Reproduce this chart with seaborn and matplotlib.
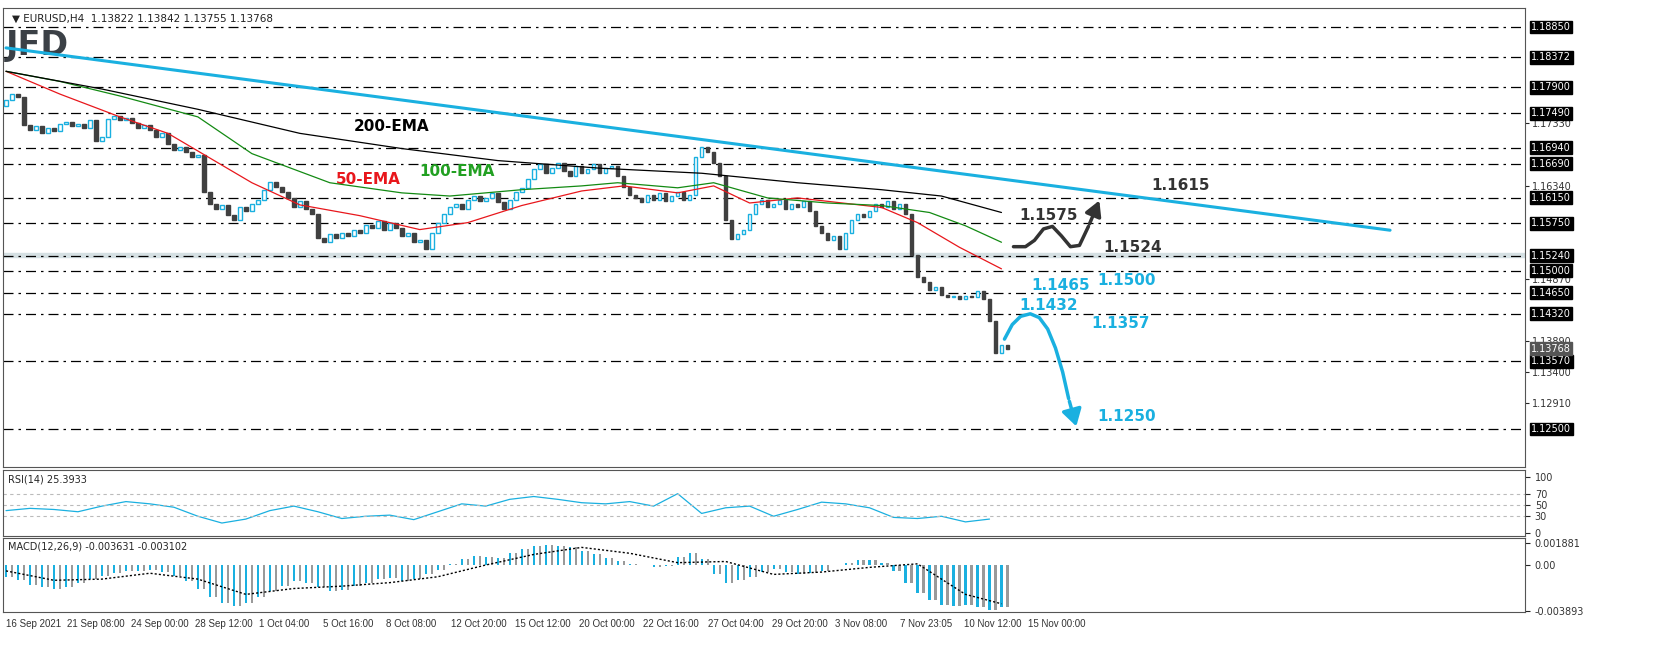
import numpy as np
import pandas as pd
import matplotlib
matplotlib.use("Agg")
import matplotlib.pyplot as plt
import seaborn as sns

sns.set_style("white")
plt.rcParams['font.family'] = ['DejaVu Sans']

# --- data ---
closes = [
    1.1770, 1.1779, 1.1775, 1.1730, 1.1722, 1.1728, 1.1718, 1.1725, 1.1720, 1.1731,
    1.1735, 1.1728, 1.1732, 1.1726, 1.1738, 1.1705, 1.1712, 1.1740, 1.1745, 1.1738,
    1.1742, 1.1733, 1.1725, 1.1730, 1.1722, 1.1712, 1.1718, 1.1700, 1.1690, 1.1695,
    1.1688, 1.1680, 1.1683, 1.1625, 1.1605, 1.1598, 1.1604, 1.1588, 1.1580, 1.1600,
    1.1595, 1.1605, 1.1612, 1.1628, 1.1640, 1.1632, 1.1625, 1.1615, 1.1600, 1.1610,
    1.1598, 1.1590, 1.1552, 1.1545, 1.1558, 1.1552, 1.1560, 1.1555, 1.1565, 1.1560,
    1.1572, 1.1568, 1.1578, 1.1565, 1.1575, 1.1568, 1.1555, 1.1560, 1.1545, 1.1548,
    1.1535, 1.1560, 1.1575, 1.1590, 1.1600, 1.1605, 1.1598, 1.1612, 1.1618, 1.1610,
    1.1615, 1.1622, 1.1608, 1.1598, 1.1612, 1.1625, 1.1630, 1.1645, 1.1660, 1.1668,
    1.1655, 1.1662, 1.1670, 1.1658, 1.1650, 1.1665, 1.1655, 1.1660, 1.1668, 1.1655,
    1.1662, 1.1665, 1.1650, 1.1632, 1.1620, 1.1615, 1.1608, 1.1620, 1.1612, 1.1622,
    1.1610, 1.1618, 1.1625, 1.1612, 1.1620, 1.1680, 1.1695, 1.1688, 1.1670, 1.1650,
    1.1580, 1.1550, 1.1558, 1.1565, 1.1590, 1.1605, 1.1612, 1.1600, 1.1605, 1.1612,
    1.1598, 1.1605, 1.1600, 1.1610, 1.1595, 1.1570, 1.1560, 1.1548, 1.1555, 1.1535,
    1.1560, 1.1580, 1.1590, 1.1585, 1.1595, 1.1605, 1.1600, 1.1610, 1.1598, 1.1605,
    1.1590, 1.1525, 1.1490, 1.1482, 1.1470, 1.1475, 1.1462, 1.1458, 1.1460, 1.1455,
    1.1460, 1.1458, 1.1468, 1.1455, 1.1420, 1.1370, 1.1382, 1.13768,
]
first_open = 1.1760

ema50_idx = [0, 9, 19, 27, 34, 41, 49, 59, 69, 77, 86, 96, 103, 112, 118, 124, 132, 146, 152, 159, 166]
ema50_val = [1.1815, 1.1779, 1.1743, 1.1717, 1.1678, 1.1639, 1.1604, 1.1587, 1.1565, 1.1576,
             1.1603, 1.1626, 1.1634, 1.1623, 1.1634, 1.1607, 1.1615, 1.1600, 1.1576, 1.1537, 1.1503]
ema100_idx = [0, 9, 19, 32, 41, 54, 66, 74, 86, 96, 102, 112, 118, 127, 137, 146, 154, 160, 166]
ema100_val = [1.1815, 1.1799, 1.1776, 1.1743, 1.1685, 1.1639, 1.1623, 1.1618, 1.1628, 1.1634,
              1.1639, 1.1631, 1.1639, 1.1615, 1.1607, 1.1603, 1.1592, 1.1571, 1.1545]
ema200_idx = [0, 16, 32, 49, 66, 82, 99, 116, 132, 146, 156, 166]
ema200_val = [1.1815, 1.1787, 1.1755, 1.1717, 1.1693, 1.1674, 1.1662, 1.1654, 1.1639, 1.1628, 1.1618, 1.1592]

trend_idx = [0, 230.8]
trend_val = [1.1852, 1.1564]

levels = [1.18850, 1.18372, 1.17900, 1.17490, 1.16940, 1.16690, 1.16150, 1.15750,
          1.15240, 1.15000, 1.14650, 1.14320, 1.13570, 1.12500]
plain_ticks = [1.17330, 1.16340, 1.14870, 1.13890, 1.13400, 1.12910]
last_price = 1.13768

rsi_vals = [40, 44, 42, 38, 48, 56, 52, 46, 30, 18, 25, 40, 48, 38, 26, 30, 32, 24, 38, 52,
            48, 60, 65, 60, 54, 52, 56, 48, 70, 35, 45, 48, 30, 42, 55, 52, 45, 28, 26, 30, 20, 25]

macd_hist = [
    -0.0010, -0.0013, -0.0017, -0.0019, -0.0020, -0.0019, -0.0015, -0.0012, -0.0009, -0.0007,
    -0.0005, -0.0005, -0.0004, -0.0006, -0.0009, -0.0014, -0.0020, -0.0027, -0.0032, -0.0035,
    -0.0032, -0.0027, -0.0022, -0.0018, -0.0014, -0.0015, -0.0019, -0.0022, -0.0021, -0.0018,
    -0.0015, -0.0012, -0.0011, -0.0014, -0.0012, -0.0008, -0.0004, 0.0001, 0.0005, 0.0008,
    0.0007, 0.0006, 0.0010, 0.0014, 0.0016, 0.0017, 0.0016, 0.0015, 0.0012, 0.0009,
    0.0006, 0.0003, 0.0001, 0.0000, -0.0002, -0.0001, 0.0007, 0.0010, 0.0005, -0.0008,
    -0.0015, -0.0013, -0.0010, -0.0006, -0.0003, -0.0006, -0.0008, -0.0007, -0.0005, 0.0000,
    0.0002, 0.0004, 0.0004, 0.0002, -0.0005, -0.0015, -0.0024, -0.0030, -0.0034, -0.0035,
    -0.0034, -0.0036, -0.0038, -0.0036,
]
signal_idx = [0, 8, 16, 24, 32, 40, 48, 56, 64, 72, 80, 88, 96, 104, 112, 120, 128, 136, 144, 152, 160, 166]
signal_val = [-0.0005, -0.0013, -0.0012, -0.0007, -0.0012, -0.0025, -0.0020, -0.0018, -0.0015, -0.0010,
              0.0000, 0.0009, 0.0015, 0.0010, 0.0002, 0.0003, -0.0008, -0.0006, -0.0002, 0.0001, -0.0025, -0.0033]

date_labels = ["16 Sep 2021", "21 Sep 08:00", "24 Sep 00:00", "28 Sep 12:00", "1 Oct 04:00",
               "5 Oct 16:00", "8 Oct 08:00", "12 Oct 20:00", "15 Oct 12:00", "20 Oct 00:00",
               "22 Oct 16:00", "27 Oct 04:00", "29 Oct 20:00", "3 Nov 08:00", "7 Nov 23:05",
               "10 Nov 12:00", "15 Nov 00:00"]
date_idx = [0, 10.2, 20.8, 31.5, 42.2, 52.8, 63.3, 74.2, 84.8, 95.5, 106.2, 117, 127.7, 138.3, 149, 159.7, 170.5]

# --- layout ---
W, H = 1655, 671
fig = plt.figure(figsize=(W / 100, H / 100), dpi=100)
fig.patch.set_facecolor("white")

def rect(x0, y0, x1, y1):
    return [x0 / W, (H - y1) / H, (x1 - x0) / W, (y1 - y0) / H]

ax = fig.add_axes(rect(3, 8, 1525, 467))
ax_rsi = fig.add_axes(rect(3, 470, 1525, 536))
ax_macd = fig.add_axes(rect(3, 538, 1525, 612))
XMIN, XMAX = -0.5, 253.3
CYAN = "#1ab0e0"
DARK = "#404040"

# candles
n = len(closes)
idx = np.arange(n)
opens = [first_open] + closes[:-1]
df = pd.DataFrame({"i": idx, "open": opens, "close": closes})
df["lo"] = df[["open", "close"]].min(axis=1)
df["hi"] = df[["open", "close"]].max(axis=1)
df["h"] = (df["hi"] - df["lo"]).clip(lower=0.00006)
up = df[df["close"] >= df["open"]]
dn = df[df["close"] < df["open"]]
ax.bar(up["i"], up["h"], bottom=up["lo"], width=0.6, facecolor="white", edgecolor=CYAN, linewidth=1, zorder=3)
ax.bar(dn["i"], dn["h"], bottom=dn["lo"], width=0.6, facecolor=DARK, edgecolor=DARK, linewidth=1, zorder=3)

# levels
ax.axhspan(1.1521, 1.1528, color="#d5e0e3", zorder=0)
for lv in levels:
    ax.axhline(lv, color="black", lw=0.9, ls=(0, (8, 4, 2, 4)), zorder=1)

sns.lineplot(x=ema50_idx, y=ema50_val, ax=ax, color="#e8171c", lw=0.9, zorder=4)
sns.lineplot(x=ema100_idx, y=ema100_val, ax=ax, color="#138a13", lw=0.9, zorder=4)
sns.lineplot(x=ema200_idx, y=ema200_val, ax=ax, color="black", lw=0.9, zorder=4)
sns.lineplot(x=trend_idx, y=trend_val, ax=ax, color=CYAN, lw=2.2, zorder=4)

ax.set_xlim(XMIN, XMAX)
ax.set_ylim(1.1190, 1.1915)

# labels on chart
bold = dict(fontsize=11, fontweight="bold")
ax.text(58, 1.1720, "200-EMA", color="black", **bold)
ax.text(55, 1.1637, "50-EMA", color="#e8171c", **bold)
ax.text(69, 1.1650, "100-EMA", color="#22a022", **bold)
ax.text(191, 1.1627, "1.1615", color="#333333", **bold)
ax.text(169, 1.1580, "1.1575", color="#333333", **bold)
ax.text(183, 1.1530, "1.1524", color="#333333", **bold)
ax.text(182, 1.1478, "1.1500", color=CYAN, **bold)
ax.text(171, 1.1470, "1.1465", color=CYAN, **bold)
ax.text(169, 1.1438, "1.1432", color=CYAN, **bold)
ax.text(181, 1.1410, "1.1357", color=CYAN, **bold)
ax.text(182, 1.1262, "1.1250", color=CYAN, **bold)

# black scenario wave
wave_x = [168, 170, 171.5, 173, 174.5, 176, 177.5, 179, 180.5]
wave_y = [1.1538, 1.1538, 1.1548, 1.1566, 1.1570, 1.1555, 1.1538, 1.1540, 1.1570]
ax.plot(wave_x, wave_y, color="#333333", lw=2.5, zorder=5)
ax.annotate("", xy=(182.5, 1.1615), xytext=(180.5, 1.1570),
            arrowprops=dict(arrowstyle="-|>,head_width=0.5,head_length=0.9", color="#333333", lw=2.5), zorder=5)
# blue scenario curve
blue_x = [166.5, 167.8, 169.2, 170.8, 172.3, 173.7, 175.0, 176.2, 177.2]
blue_y = [1.1392, 1.1415, 1.1428, 1.1432, 1.1426, 1.1408, 1.1378, 1.1340, 1.1298]
ax.plot(blue_x, blue_y, color=CYAN, lw=2.5, zorder=5, solid_capstyle="round")
ax.annotate("", xy=(178.6, 1.1250), xytext=(177.2, 1.1298),
            arrowprops=dict(arrowstyle="-|>,head_width=0.6,head_length=1.0", color=CYAN, lw=2.5), zorder=5)

# right axis labels
ax.yaxis.tick_right()
ax.set_yticks(plain_ticks)
ax.set_yticklabels([f"{t:.5f}" for t in plain_ticks], fontsize=7, color="#333333")
ax.tick_params(axis="y", length=3, pad=2)
ax.set_xticks([])
for lv in levels:
    ax.text(1.004, lv, f"{lv:.5f}", transform=ax.get_yaxis_transform(), fontsize=7, color="white",
            va="center", ha="left", bbox=dict(boxstyle="square,pad=0.15", fc="black", ec="black"))
ax.text(1.004, last_price, f"{last_price:.5f}", transform=ax.get_yaxis_transform(), fontsize=7,
        color="white", va="center", ha="left", bbox=dict(boxstyle="square,pad=0.15", fc="#555555", ec="#555555"))

ax.text(0.006, 0.988, "▼ EURUSD,H4  1.13822 1.13842 1.13755 1.13768", transform=ax.transAxes,
        fontsize=7.5, color="#222222", va="top")
ax.text(0.002, 0.918, "JFD", transform=ax.transAxes, fontsize=24, fontweight="bold",
        color="#3b4046", va="center", ha="left")

# RSI
rsi_idx = np.arange(len(rsi_vals)) * 4
sns.lineplot(x=rsi_idx, y=rsi_vals, ax=ax_rsi, color=CYAN, lw=0.9)
for lv in (30, 50, 70):
    ax_rsi.axhline(lv, color="#bbbbbb", lw=0.8, ls=(0, (3, 3)))
ax_rsi.set_xlim(XMIN, XMAX)
ax_rsi.set_ylim(-5, 112)
ax_rsi.yaxis.tick_right()
ax_rsi.set_yticks([0, 30, 50, 70, 100])
ax_rsi.set_yticklabels(["0", "30", "50", "70", "100"], fontsize=7, color="#333333")
ax_rsi.set_xticks([])
ax_rsi.text(0.003, 0.93, "RSI(14) 25.3933", transform=ax_rsi.transAxes, fontsize=7, va="top")

# MACD: each reading covers two candles
macd_idx = np.arange(len(macd_hist)) * 2
for off, col in ((0, CYAN), (1, "#9a9a9a")):
    ax_macd.bar(macd_idx + off, macd_hist, width=0.35, color=col, linewidth=0)
sns.lineplot(x=signal_idx, y=signal_val, ax=ax_macd, color="black", lw=1.0, ls=(0, (1.5, 1.5)))
ax_macd.set_xlim(XMIN, XMAX)
ax_macd.set_ylim(-0.0040, 0.0023)
ax_macd.yaxis.tick_right()
ax_macd.set_yticks([0.001881, 0.0, -0.003893])
ax_macd.set_yticklabels(["0.001881", "0.00", "-0.003893"], fontsize=7, color="#333333")
ax_macd.set_xticks(date_idx)
ax_macd.set_xticklabels(date_labels, fontsize=7, color="#333333", ha="left", family="Liberation Sans")
ax_macd.tick_params(axis="x", length=3, pad=2)
ax_macd.text(0.003, 0.95, "MACD(12,26,9) -0.003631 -0.003102", transform=ax_macd.transAxes, fontsize=7, va="top")

for a in (ax, ax_rsi, ax_macd):
    for s in a.spines.values():
        s.set_color("#555555")
        s.set_linewidth(0.8)
    a.set_xlabel("")
    a.set_ylabel("")
    leg = a.get_legend()
    if leg:
        leg.remove()

fig.savefig("out.png", dpi=100)
